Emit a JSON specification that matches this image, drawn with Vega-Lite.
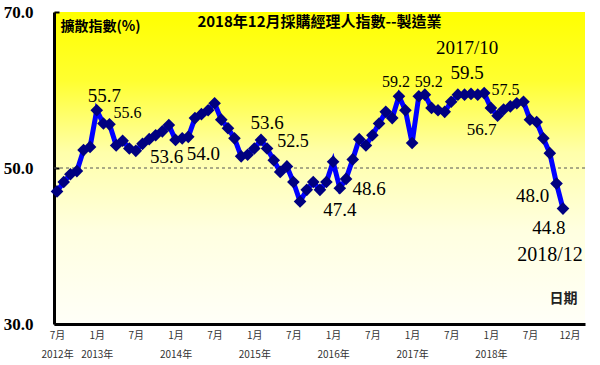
{
  "$schema": "https://vega.github.io/schema/vega-lite/v6.json",
  "width": 531,
  "height": 312,
  "autosize": "none",
  "padding": {"left": 54, "top": 12, "right": 15, "bottom": 41},
  "background": "white",
  "config": {
    "view": {
      "stroke": null,
      "fill": {"gradient": "linear", "x1": 0, "y1": 0, "x2": 0, "y2": 1,
        "stops": [
          {"offset": 0, "color": "#FFFF00"},
          {"offset": 0.22, "color": "#FFFF30"},
          {"offset": 0.45, "color": "#FFFFAA"},
          {"offset": 0.7, "color": "#FFFFE0"},
          {"offset": 1, "color": "#FFFFF8"}
        ]}
    },
    "axisY": {
      "title": "擴散指數(%)",
      "titleFont": "Noto Sans CJK TC",
      "titleFontSize": 14,
      "titleFontWeight": "bold",
      "titleColor": "#000000",
      "titleAngle": 0,
      "titleX": 6,
      "titleY": 14,
      "titleAlign": "left",
      "titleBaseline": "middle",
      "labelFont": "Liberation Serif",
      "labelFontSize": 17,
      "labelFontWeight": "bold",
      "labelColor": "#000000",
      "labelPadding": 26,
      "labelFlush": false,
      "ticks": true,
      "tickSize": -5,
      "tickWidth": 2,
      "tickColor": "#000000",
      "grid": false,
      "domainColor": "#000000",
      "domainWidth": 3
    }
  },
  "title": {
    "text": "2018年12月採購經理人指數--製造業",
    "font": "Noto Sans CJK TC",
    "fontSize": 15,
    "fontWeight": "bold",
    "color": "#000000",
    "anchor": "middle",
    "frame": "group",
    "baseline": "middle",
    "offset": -26,
    "dy": 8
  },
  "data": {
    "values": [
      {"date": "2012/07/01", "value": 47.0},
      {"date": "2012/08/01", "value": 48.2},
      {"date": "2012/09/01", "value": 49.2},
      {"date": "2012/10/01", "value": 49.6},
      {"date": "2012/11/01", "value": 52.3},
      {"date": "2012/12/01", "value": 52.7},
      {"date": "2013/01/01", "value": 57.4},
      {"date": "2013/02/01", "value": 55.7, "label": "55.7"},
      {"date": "2013/03/01", "value": 55.6, "label": "55.6"},
      {"date": "2013/04/01", "value": 52.9},
      {"date": "2013/05/01", "value": 53.5},
      {"date": "2013/06/01", "value": 52.5},
      {"date": "2013/07/01", "value": 52.2},
      {"date": "2013/08/01", "value": 53.1},
      {"date": "2013/09/01", "value": 53.7},
      {"date": "2013/10/01", "value": 54.2},
      {"date": "2013/11/01", "value": 54.7},
      {"date": "2013/12/01", "value": 55.5},
      {"date": "2014/01/01", "value": 53.6, "label": "53.6"},
      {"date": "2014/02/01", "value": 53.8},
      {"date": "2014/03/01", "value": 54.0, "label": "54.0"},
      {"date": "2014/04/01", "value": 56.4},
      {"date": "2014/05/01", "value": 56.9},
      {"date": "2014/06/01", "value": 57.4},
      {"date": "2014/07/01", "value": 58.3},
      {"date": "2014/08/01", "value": 56.2},
      {"date": "2014/09/01", "value": 55.1},
      {"date": "2014/10/01", "value": 53.8},
      {"date": "2014/11/01", "value": 51.5},
      {"date": "2014/12/01", "value": 51.7},
      {"date": "2015/01/01", "value": 52.5},
      {"date": "2015/02/01", "value": 53.6, "label": "53.6"},
      {"date": "2015/03/01", "value": 52.5, "label": "52.5"},
      {"date": "2015/04/01", "value": 51.0},
      {"date": "2015/05/01", "value": 49.5},
      {"date": "2015/06/01", "value": 50.2},
      {"date": "2015/07/01", "value": 48.2},
      {"date": "2015/08/01", "value": 45.7},
      {"date": "2015/09/01", "value": 47.2},
      {"date": "2015/10/01", "value": 48.2},
      {"date": "2015/11/01", "value": 47.2},
      {"date": "2015/12/01", "value": 48.2},
      {"date": "2016/01/01", "value": 50.8},
      {"date": "2016/02/01", "value": 47.4, "label": "47.4"},
      {"date": "2016/03/01", "value": 48.6, "label": "48.6"},
      {"date": "2016/04/01", "value": 51.1},
      {"date": "2016/05/01", "value": 53.7},
      {"date": "2016/06/01", "value": 52.9},
      {"date": "2016/07/01", "value": 54.2},
      {"date": "2016/08/01", "value": 55.7},
      {"date": "2016/09/01", "value": 57.2},
      {"date": "2016/10/01", "value": 56.4},
      {"date": "2016/11/01", "value": 59.2, "label": "59.2"},
      {"date": "2016/12/01", "value": 57.4},
      {"date": "2017/01/01", "value": 53.2},
      {"date": "2017/02/01", "value": 59.2, "label": "59.2"},
      {"date": "2017/03/01", "value": 59.4},
      {"date": "2017/04/01", "value": 57.7},
      {"date": "2017/05/01", "value": 57.4},
      {"date": "2017/06/01", "value": 57.2},
      {"date": "2017/07/01", "value": 58.5},
      {"date": "2017/08/01", "value": 59.4},
      {"date": "2017/09/01", "value": 59.4},
      {"date": "2017/10/01", "value": 59.5, "label": "59.5", "note": "2017/10"},
      {"date": "2017/11/01", "value": 59.4},
      {"date": "2017/12/01", "value": 59.6},
      {"date": "2018/01/01", "value": 57.7},
      {"date": "2018/02/01", "value": 56.7, "label": "56.7"},
      {"date": "2018/03/01", "value": 57.5, "label": "57.5"},
      {"date": "2018/04/01", "value": 57.9},
      {"date": "2018/05/01", "value": 58.3},
      {"date": "2018/06/01", "value": 58.5},
      {"date": "2018/07/01", "value": 56.2},
      {"date": "2018/08/01", "value": 55.9},
      {"date": "2018/09/01", "value": 53.8},
      {"date": "2018/10/01", "value": 51.9},
      {"date": "2018/11/01", "value": 48.0, "label": "48.0"},
      {"date": "2018/12/01", "value": 44.8, "label": "44.8", "note": "2018/12"}
    ]
  },
  "layer": [
    {
      "data": {"values": [{"value": 50}]},
      "mark": {"type": "rule", "color": "#555555", "strokeWidth": 1, "strokeDash": [3, 3]},
      "encoding": {
        "y": {
          "field": "value",
          "type": "quantitative",
          "scale": {"domain": [30, 70], "nice": false, "zero": false},
          "axis": {"title": "擴散指數(%)", "values": [30, 50, 70], "format": ".1f"}
        }
      }
    },
    {
      "encoding": {
        "x": {
          "field": "date",
          "type": "temporal",
          "scale": {"domain": [{"year": 2012, "month": 6, "date": 17}, {"year": 2019, "month": 3, "date": 13}]},
          "axis": {
            "title": "日期",
            "titleFont": "Noto Sans CJK TC",
            "titleFontSize": 14,
            "titleFontWeight": "bold",
            "titleColor": "#222222",
            "titleX": 509,
            "titleY": -26,
            "titleAlign": "center",
            "titleBaseline": "middle",
            "values": [
              {"year": 2012, "month": 7, "date": 1},
              {"year": 2013, "month": 1, "date": 1},
              {"year": 2013, "month": 7, "date": 1},
              {"year": 2014, "month": 1, "date": 1},
              {"year": 2014, "month": 7, "date": 1},
              {"year": 2015, "month": 1, "date": 1},
              {"year": 2015, "month": 7, "date": 1},
              {"year": 2016, "month": 1, "date": 1},
              {"year": 2016, "month": 7, "date": 1},
              {"year": 2017, "month": 1, "date": 1},
              {"year": 2017, "month": 7, "date": 1},
              {"year": 2018, "month": 1, "date": 1},
              {"year": 2018, "month": 7, "date": 1},
              {"year": 2018, "month": 12, "date": 31}
            ],
            "labelExpr": "month(datum.value)==0 ? ['1月', year(datum.value)+'年'] : (year(datum.value)==2012 ? ['7月', '2012年'] : (month(datum.value)+1)+'月')",
            "labelFont": "Noto Sans CJK TC",
            "labelFontSize": 10,
            "labelColor": "#333333",
            "labelLineHeight": 19,
            "labelPadding": 6,
            "labelOverlap": false,
            "labelBound": false,
            "labelFlush": false,
            "ticks": false,
            "grid": false,
            "domainColor": "#000000",
            "domainWidth": 3
          }
        },
        "y": {
          "field": "value",
          "type": "quantitative",
          "scale": {"domain": [30, 70], "nice": false, "zero": false},
          "axis": {"title": "擴散指數(%)", "values": [30, 50, 70], "format": ".1f"}
        }
      },
      "layer": [
        {"mark": {"type": "line", "color": "#0000FF", "strokeWidth": 5}},
        {"mark": {"type": "point", "shape": "diamond", "filled": true, "color": "#000080", "opacity": 1, "size": 160}},
        {"transform": [{"filter": "year(datum.date)==2013 && month(datum.date)==1"}],
          "mark": {"type": "text", "font": "Liberation Serif", "fontSize": 19, "color": "#000000", "dx": 1, "dy": -28},
          "encoding": {"text": {"field": "label"}}},
        {"transform": [{"filter": "year(datum.date)==2013 && month(datum.date)==2"}],
          "mark": {"type": "text", "font": "Liberation Serif", "fontSize": 16, "color": "#000000", "dx": 18, "dy": -11},
          "encoding": {"text": {"field": "label"}}},
        {"transform": [{"filter": "year(datum.date)==2014 && month(datum.date)==0"}],
          "mark": {"type": "text", "font": "Liberation Serif", "fontSize": 19, "color": "#000000", "dx": -9, "dy": 17},
          "encoding": {"text": {"field": "label"}}},
        {"transform": [{"filter": "year(datum.date)==2014 && month(datum.date)==2"}],
          "mark": {"type": "text", "font": "Liberation Serif", "fontSize": 19, "color": "#000000", "dx": 15, "dy": 17},
          "encoding": {"text": {"field": "label"}}},
        {"transform": [{"filter": "year(datum.date)==2015 && month(datum.date)==1"}],
          "mark": {"type": "text", "font": "Liberation Serif", "fontSize": 19, "color": "#000000", "dx": 6, "dy": -17},
          "encoding": {"text": {"field": "label"}}},
        {"transform": [{"filter": "year(datum.date)==2015 && month(datum.date)==2"}],
          "mark": {"type": "text", "font": "Liberation Serif", "fontSize": 18, "color": "#000000", "dx": 26, "dy": -7},
          "encoding": {"text": {"field": "label"}}},
        {"transform": [{"filter": "year(datum.date)==2016 && month(datum.date)==1"}],
          "mark": {"type": "text", "font": "Liberation Serif", "fontSize": 19, "color": "#000000", "dx": 0, "dy": 22},
          "encoding": {"text": {"field": "label"}}},
        {"transform": [{"filter": "year(datum.date)==2016 && month(datum.date)==2"}],
          "mark": {"type": "text", "font": "Liberation Serif", "fontSize": 19, "color": "#000000", "dx": 23, "dy": 10},
          "encoding": {"text": {"field": "label"}}},
        {"transform": [{"filter": "year(datum.date)==2016 && month(datum.date)==10"}],
          "mark": {"type": "text", "font": "Liberation Serif", "fontSize": 16, "color": "#000000", "dx": -3, "dy": -14},
          "encoding": {"text": {"field": "label"}}},
        {"transform": [{"filter": "year(datum.date)==2017 && month(datum.date)==1"}],
          "mark": {"type": "text", "font": "Liberation Serif", "fontSize": 16, "color": "#000000", "dx": 10, "dy": -14},
          "encoding": {"text": {"field": "label"}}},
        {"transform": [{"filter": "year(datum.date)==2017 && month(datum.date)==9"}],
          "mark": {"type": "text", "font": "Liberation Serif", "fontSize": 19, "color": "#000000", "dx": -4, "dy": -21},
          "encoding": {"text": {"field": "label"}}},
        {"transform": [{"filter": "year(datum.date)==2017 && month(datum.date)==9"}],
          "mark": {"type": "text", "font": "Liberation Serif", "fontSize": 19, "color": "#000000", "dx": -4, "dy": -46},
          "encoding": {"text": {"field": "note"}}},
        {"transform": [{"filter": "year(datum.date)==2018 && month(datum.date)==1"}],
          "mark": {"type": "text", "font": "Liberation Serif", "fontSize": 17, "color": "#000000", "dx": -16, "dy": 14},
          "encoding": {"text": {"field": "label"}}},
        {"transform": [{"filter": "year(datum.date)==2018 && month(datum.date)==2"}],
          "mark": {"type": "text", "font": "Liberation Serif", "fontSize": 16, "color": "#000000", "dx": 2, "dy": -20},
          "encoding": {"text": {"field": "label"}}},
        {"transform": [{"filter": "year(datum.date)==2018 && month(datum.date)==10"}],
          "mark": {"type": "text", "font": "Liberation Serif", "fontSize": 19, "color": "#000000", "dx": -24, "dy": 12},
          "encoding": {"text": {"field": "label"}}},
        {"transform": [{"filter": "year(datum.date)==2018 && month(datum.date)==11"}],
          "mark": {"type": "text", "font": "Liberation Serif", "fontSize": 19, "color": "#000000", "dx": -14, "dy": 19},
          "encoding": {"text": {"field": "label"}}},
        {"transform": [{"filter": "year(datum.date)==2018 && month(datum.date)==11"}],
          "mark": {"type": "text", "font": "Liberation Serif", "fontSize": 20, "color": "#000000", "dx": -13, "dy": 46},
          "encoding": {"text": {"field": "note"}}}
      ]
    }
  ]
}
